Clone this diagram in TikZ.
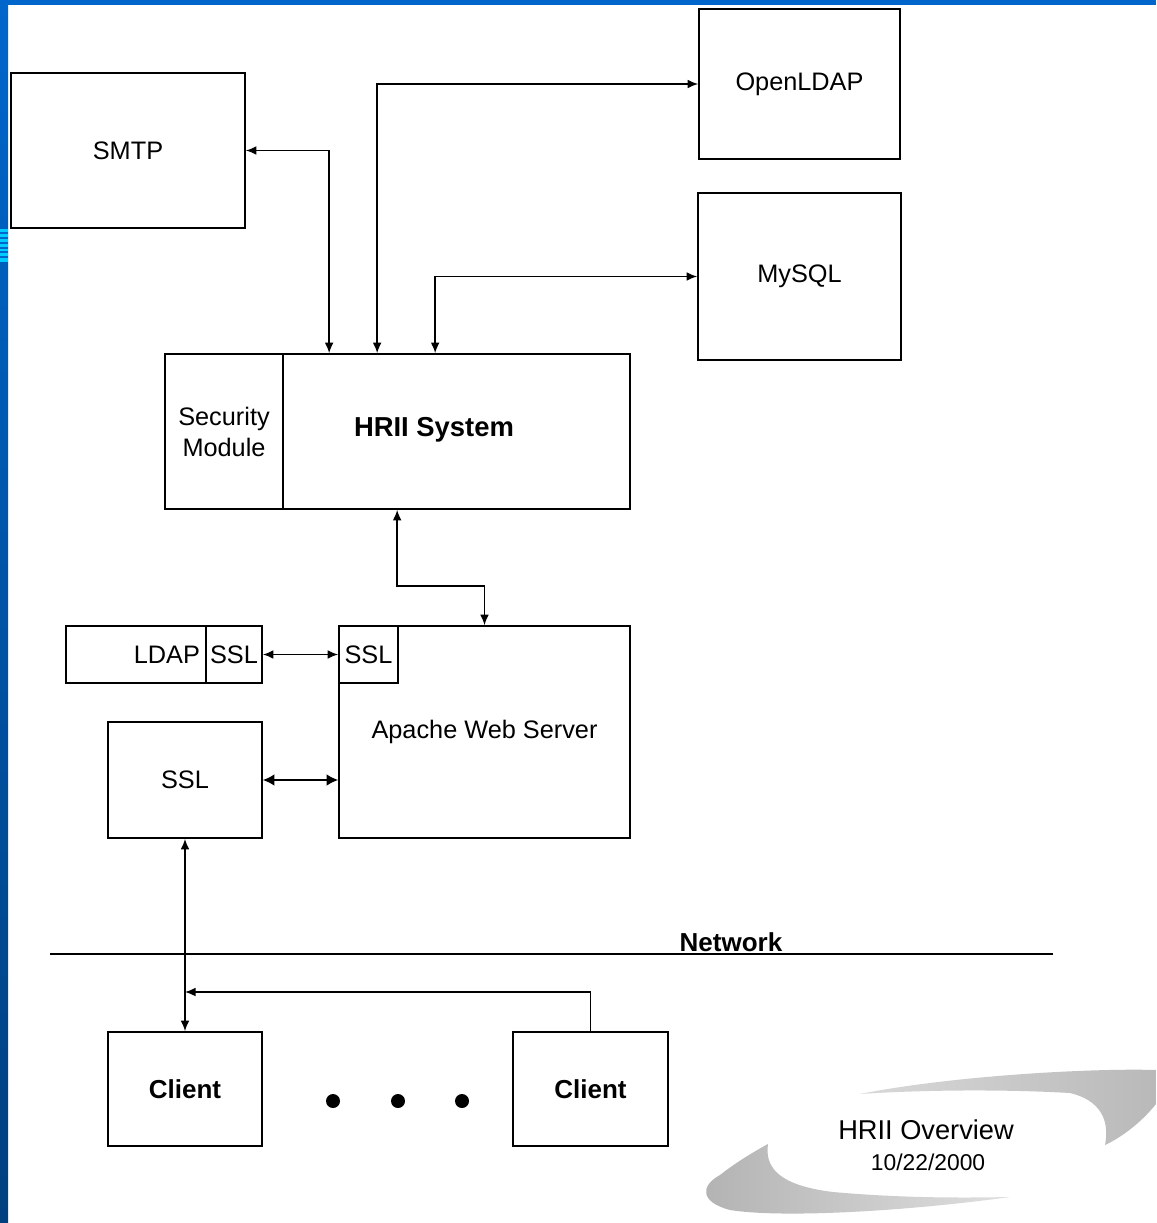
\documentclass[tikz,border=0pt]{standalone}
\usepackage{fontspec}
\setmainfont{Liberation Sans}
\usetikzlibrary{arrows.meta,calc}

\definecolor{frameblue}{HTML}{0066CC}
\definecolor{framedark}{HTML}{00407F}
\definecolor{stripecyan}{HTML}{00CCFF}

\tikzstyle{box}=[draw, line width=1pt, inner sep=0pt, font=\fontsize{14.4}{17.6}\selectfont]
\tikzstyle{boldtext}=[inner sep=0pt, font=\fontsize{14.8}{17.6}\selectfont\bfseries]
\tikzstyle{link}=[line width=0.8pt, {Latex[length=6pt,width=5pt]}-{Latex[length=6pt,width=5pt]}]
\tikzstyle{heavylink}=[line width=0.8pt, {Latex[length=6.5pt,width=6.5pt]}-{Latex[length=6.5pt,width=6.5pt]}]
\tikzstyle{feed}=[line width=0.8pt, -{Latex[length=6pt,width=5pt]}]
\tikzstyle{dot}=[circle, fill=black, inner sep=0pt, minimum size=0.28cm]

\begin{document}
\begin{tikzpicture}[x=0.02cm, y=-0.02cm]
  \useasboundingbox (0,0) rectangle (1156,1223);
  % slide frame
  \fill[white] (0,0) rectangle (1156,1223);
  \fill[frameblue] (0,0) rectangle (1156,5);
  \shade[top color=frameblue, bottom color=framedark] (0,0) rectangle (8,1223);
  \fill[stripecyan] (0,229) rectangle (8,262);
  \foreach \y in {233,238,243,248,252,257}
    \draw[frameblue, line width=0.6pt] (0,\y) -- (8,\y);

  % boxes
  \node[box, minimum width=4.68cm, minimum height=3.10cm] (smtp) at (128,150.5) {SMTP};
  \node[box, minimum width=4.02cm, minimum height=3.00cm] (ldapdir) at (799.5,84) {OpenLDAP};
  \node[box, minimum width=4.06cm, minimum height=3.34cm] (mysql) at (799.5,276.5) {MySQL};
  \node[box, minimum width=2.36cm, minimum height=3.10cm, align=center] (secmod) at (224,431.5) {Security\\Module};
  \node[box, minimum width=6.94cm, minimum height=3.10cm] (hrii) at (456.5,431.5) {};
  \node[boldtext, font=\fontsize{15.6}{18}\selectfont\bfseries] (hriitext) at (434,430) {HRII System};
  \node[box, minimum width=2.80cm, minimum height=1.14cm, text width=2.56cm, align=right] (ldap) at (136,654.5) {LDAP};
  \node[box, minimum width=1.12cm, minimum height=1.14cm] (ldapssl) at (234,654.5) {SSL};
  \node[box, minimum width=5.82cm, minimum height=4.24cm] (apache) at (484.5,732) {Apache Web Server};
  \node[box, minimum width=1.18cm, minimum height=1.14cm] (apssl) at (368.5,654.5) {SSL};
  \node[box, minimum width=3.08cm, minimum height=2.32cm] (sslbox) at (185,780) {SSL};
  \node[box, minimum width=3.08cm, minimum height=2.28cm, font=\fontsize{14.8}{17.6}\selectfont\bfseries] (client1) at (185,1089) {Client};
  \node[box, minimum width=3.10cm, minimum height=2.28cm, font=\fontsize{14.8}{17.6}\selectfont\bfseries] (client2) at (590.5,1089) {Client};
  \foreach \x [count=\i] in {333,398,462}
    \node[dot] (dot\i) at (\x,1101) {};

  % network
  \coordinate (netw) at (50,954);
  \coordinate (nete) at (1053,954);
  \draw[line width=0.8pt] (netw) -- (nete);
  \node[boldtext, anchor=base] (netlabel) at (731,951) {Network};

  % connectors
  \draw[link] (smtp.east) -| ($(hrii.north west)+(47,0)$);
  \draw[link] ($(hrii.north west)+(95,0)$) |- (ldapdir.west);
  \draw[link] ($(hrii.north west)+(153,0)$) |- (mysql.west);
  \draw[link] ($(hrii.south west)+(115,0)$) -- ++(0,76) -| (apache.north);
  \draw[link] (ldapssl.east) -- (apssl.west);
  \draw[heavylink] (sslbox.east) -- (sslbox.east -| apache.west);
  \draw[link] (sslbox.south) -- (client1.north);
  \coordinate (tap) at (185,992);
  \draw[feed] (client2.north) |- (tap);

  % title swoosh
  \shade[left color=gray!30, right color=gray!55]
    (860,1094) .. controls (950,1076) and (1090,1068) .. (1156,1070)
    -- (1156,1104) .. controls (1140,1124) and (1120,1138) .. (1105,1145)
    .. controls (1110,1120) and (1100,1100) .. (1070,1093)
    .. controls (1000,1089) and (920,1090) .. (860,1094);
  \shade[left color=gray!60, right color=gray!25]
    (1010,1197) .. controls (900,1212) and (780,1218) .. (730,1210)
    .. controls (700,1202) and (700,1186) .. (720,1175)
    .. controls (735,1163) and (755,1151) .. (768,1144)
    .. controls (765,1165) and (775,1185) .. (833,1192)
    .. controls (900,1198) and (960,1198) .. (1010,1197);
  \node[inner sep=0pt, font=\fontsize{15.5}{18}\selectfont] (title) at (926,1130) {HRII Overview};
  \node[inner sep=0pt, font=\fontsize{13}{16}\selectfont] (date) at (928,1162) {10/22/2000};
\end{tikzpicture}
\end{document}
